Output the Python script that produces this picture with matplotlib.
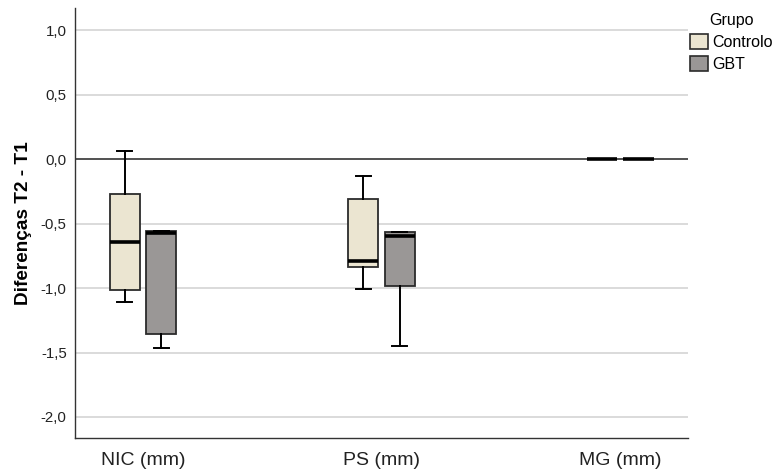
import matplotlib
matplotlib.use("Agg")
import matplotlib.pyplot as plt
from matplotlib.patches import Patch

plt.rcParams['font.family'] = ['Liberation Sans', 'DejaVu Sans']

categories = ["NIC (mm)", "PS (mm)", "MG (mm)"]
groups = ["Controlo", "GBT"]

# Box statistics per category: [NIC, PS, MG]
ctrl_whislo = [-1.11, -1.01, 0.0]
ctrl_q1 = [-1.015, -0.84, 0.0]
ctrl_med = [-0.64, -0.79, 0.0]
ctrl_q3 = [-0.27, -0.31, 0.0]
ctrl_whishi = [0.065, -0.135, 0.0]

gbt_whislo = [-1.465, -1.45, 0.0]
gbt_q1 = [-1.355, -0.985, 0.0]
gbt_med = [-0.57, -0.60, 0.0]
gbt_q3 = [-0.56, -0.565, 0.0]
gbt_whishi = [-0.555, -0.565, 0.0]

yticks = [1.0, 0.5, 0.0, -0.5, -1.0, -1.5, -2.0]
ytick_labels = ["1,0", "0,5", "0,0", "-0,5", "-1,0", "-1,5", "-2,0"]

colors = {"Controlo": "#EBE5D1", "GBT": "#9A9796"}
edge = "#2b2b2b"

fig = plt.figure(figsize=(7.8, 4.76), dpi=100)
ax = fig.add_axes([0.0962, 0.0798, 0.786, 0.903])

def stats(wl, q1, med, q3, wh):
    return [dict(whislo=a, q1=b, med=c, q3=d, whishi=e, fliers=[])
            for a, b, c, d, e in zip(wl, q1, med, q3, wh)]

offset = 0.077
width = 0.126
series = [
    ("Controlo", stats(ctrl_whislo, ctrl_q1, ctrl_med, ctrl_q3, ctrl_whishi), -offset),
    ("GBT", stats(gbt_whislo, gbt_q1, gbt_med, gbt_q3, gbt_whishi), offset),
]

# gridlines
for y in yticks:
    if y == 0:
        ax.axhline(y, color="#222222", lw=1.1, zorder=1)
    else:
        ax.axhline(y, color="#d4d4d4", lw=1.2, zorder=0)

for name, st, off in series:
    pos = [i + off for i in range(len(categories))]
    ax.bxp(st, positions=pos, widths=width, patch_artist=True,
           showfliers=False, manage_ticks=False,
           boxprops=dict(facecolor=colors[name], edgecolor=edge, linewidth=1.3),
           medianprops=dict(color="black", linewidth=2.6, solid_capstyle="butt"),
           whiskerprops=dict(color="black", linewidth=1.4),
           capprops=dict(color="black", linewidth=1.4),
           capwidths=width * 0.5, zorder=3)

ax.set_xlim(-0.285, 2.285)
ax.set_ylim(-2.163, 1.17)
ax.set_xticks(range(len(categories)))
ax.set_xticklabels(categories, fontsize=14, color="#222222")
ax.set_yticks(yticks)
ax.set_yticklabels(ytick_labels, fontsize=10.8, color="#222222")
ax.tick_params(axis="both", length=0)
ax.tick_params(axis="x", pad=10)
ax.tick_params(axis="y", pad=6)

for s in ["top", "right"]:
    ax.spines[s].set_visible(False)
for s in ["left", "bottom"]:
    ax.spines[s].set_color("#333333")
    ax.spines[s].set_linewidth(1.0)

ax.set_ylabel("Diferenças T2 - T1", fontsize=13.7, fontweight="bold", labelpad=6)

handles = [Patch(facecolor=colors[g], edgecolor=edge, linewidth=1.2, label=g) for g in groups]
leg = fig.legend(handles=handles, title="Grupo", loc="upper left",
                 bbox_to_anchor=(0.885, 0.972), frameon=False, fontsize=11.5,
                 title_fontsize=11.5, handlelength=1.1, handleheight=1.1,
                 handletextpad=0.25, labelspacing=0.35, borderpad=0.0,
                 borderaxespad=0.0)

fig.savefig("out.png", dpi=100)
